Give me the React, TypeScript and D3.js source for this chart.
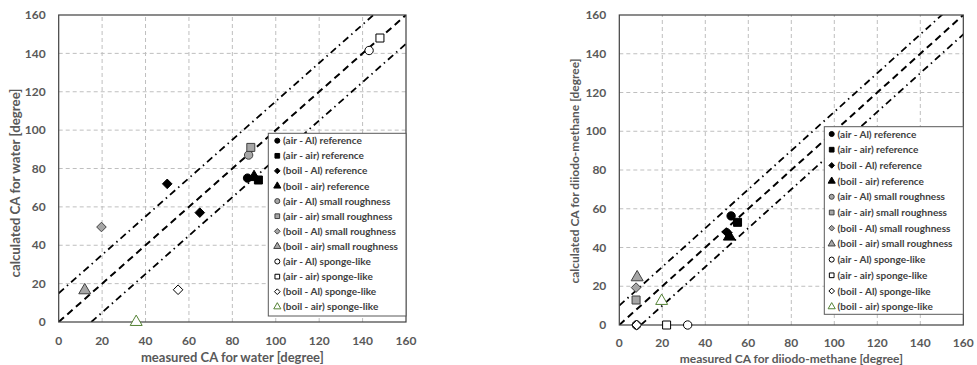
import React from "react";
import * as d3 from "d3";

const seriesNames = [
  "(air - Al) reference",
  "(air - air) reference",
  "(boil - Al) reference",
  "(boil - air) reference",
  "(air - Al) small roughness",
  "(air - air) small roughness",
  "(boil - Al) small roughness",
  "(boil - air) small roughness",
  "(air - Al) sponge-like",
  "(air - air) sponge-like",
  "(boil - Al) sponge-like",
  "(boil - air) sponge-like",
];
const seriesShapes = ["circle", "square", "diamond", "triangle", "circle", "square", "diamond", "triangle", "circle", "square", "diamond", "triangle"];
const seriesGroup = ["ref", "ref", "ref", "ref", "small", "small", "small", "small", "sponge", "sponge", "sponge", "spongeGreen"];

// water chart data
const waterSeries = [0, 1, 2, 2, 3, 4, 5, 6, 7, 8, 9, 10, 11];
const waterMeasured = [87, 92, 50, 65, 90, 87.5, 88.5, 19.7, 12, 143, 148, 55, 35.7];
const waterCalculated = [75, 74, 72, 57, 75.5, 87, 91, 49.5, 16.5, 141.5, 148, 16.8, 0];

// diiodo-methane chart data
const diiodoSeries = [0, 1, 2, 3, 4, 5, 6, 7, 8, 8, 9, 10, 11];
const diiodoMeasured = [52, 55, 50.3, 51.2, 8, 7.8, 7.8, 8.3, 31.8, 8, 22, 8.1, 19.7];
const diiodoCalculated = [56.3, 53, 47.6, 45.6, 0, 12.9, 19.3, 24.6, 0, 0, 0, 0, 12.4];

const tickValues = [0, 20, 40, 60, 80, 100, 120, 140, 160];
const waterBand = 15;
const diiodoBand = 10;

const FONT = "Lato, 'Open Sans', sans-serif";

function markerStyle(i: number) {
  const g = seriesGroup[i];
  if (g === "ref") return { fill: "#000", stroke: "#000" };
  if (g === "small") return { fill: "#a6a6a6", stroke: "#404040" };
  if (g === "spongeGreen") return { fill: "#fff", stroke: "#548235" };
  return { fill: "#fff", stroke: "#000" };
}

function symbolPath(shape: string, size: number) {
  if (shape === "diamond") {
    const r = Math.sqrt(size / 2);
    const p = d3.path();
    p.moveTo(0, -r);
    p.lineTo(r, 0);
    p.lineTo(0, r);
    p.lineTo(-r, 0);
    p.closePath();
    return p.toString();
  }
  const t =
    shape === "circle" ? d3.symbolCircle :
    shape === "square" ? d3.symbolSquare : d3.symbolTriangle;
  return d3.symbol().type(t).size(size)() as string;
}

type ChartProps = {
  id: string;
  xRange: [number, number];
  yRange: [number, number];
  series: number[];
  mx: number[];
  my: number[];
  band: number;
  xTitle: string;
  yTitle: string;
  yTitleX: number;
  yTitleY: number;
  yTitleSize: number;
  xTitleSize: number;
  tickY: number;
  titleY: number;
  legend: { x0: number; y0: number; x1: number; y1: number; firstRow: number; rowStep: number; markerX: number; textX: number };
};

function Chart(p: ChartProps) {
  const x = d3.scaleLinear().domain([0, 160]).range(p.xRange);
  const y = d3.scaleLinear().domain([0, 160]).range(p.yRange);
  const [L, R] = p.xRange;
  const [B, T] = p.yRange;
  const line = d3.line<[number, number]>().x((d) => x(d[0])).y((d) => y(d[1]));
  const clip = `clip-${p.id}`;
  const diag: [number, number][] = [[0, 0], [160, 160]];
  const up: [number, number][] = [[0, p.band], [160, 160 + p.band]];
  const lo: [number, number][] = [[p.band, 0], [160 + p.band, 160]];
  const lg = p.legend;
  return (
    <g>
      <defs>
        <clipPath id={clip}>
          <rect x={L} y={T} width={R - L} height={B - T} />
        </clipPath>
      </defs>
      <rect x={L} y={T} width={R - L} height={B - T} fill="#fff" />
      {tickValues.slice(1, -1).map((v) => (
        <line key={"gx" + v} x1={x(v)} x2={x(v)} y1={B} y2={T} stroke="#bfbfbf" strokeWidth={1} strokeDasharray="4,3" />
      ))}
      {tickValues.slice(1, -1).map((v) => (
        <line key={"gy" + v} x1={L} x2={R} y1={y(v)} y2={y(v)} stroke="#bfbfbf" strokeWidth={1} strokeDasharray="4,3" />
      ))}
      <g clipPath={`url(#${clip})`}>
        <path d={line(diag) as string} stroke="#000" strokeWidth={2} fill="none" strokeDasharray="7,4.5" />
        <path d={line(up) as string} stroke="#000" strokeWidth={1.8} fill="none" strokeDasharray="7,4,1.5,4" />
        <path d={line(lo) as string} stroke="#000" strokeWidth={1.8} fill="none" strokeDasharray="7,4,1.5,4" />
      </g>
      <rect x={L} y={T} width={R - L} height={B - T} fill="none" stroke="#404040" strokeWidth={1.2} />
      {tickValues.map((v) => (
        <text key={"tx" + v} x={x(v)} y={p.tickY} textAnchor="middle" fontFamily={FONT} fontWeight="bold" fontSize={12} fill="#595959">{v}</text>
      ))}
      {tickValues.map((v) => (
        <text key={"ty" + v} x={L - 13} y={y(v)} dy="0.35em" textAnchor="end" fontFamily={FONT} fontWeight="bold" fontSize={12} fill="#595959">{v}</text>
      ))}
      <text x={(L + R) / 2} y={p.titleY} textAnchor="middle" fontFamily={FONT} fontWeight="bold" fontSize={p.xTitleSize} fill="#595959">{p.xTitle}</text>
      <text transform={`translate(${p.yTitleX},${p.yTitleY}) rotate(-90)`} dy="0.35em" textAnchor="middle" fontFamily={FONT} fontWeight="bold" fontSize={p.yTitleSize} fill="#595959">{p.yTitle}</text>
      {p.series.map((s, i) => {
        const st = markerStyle(s);
        const shape = seriesShapes[s];
        const size = shape === "circle" ? 55 : shape === "square" ? 64 : shape === "diamond" ? 46 : 62;
        return (
          <path key={"m" + i} d={symbolPath(shape, size)} transform={`translate(${x(p.mx[i])},${y(p.my[i])})`} fill={st.fill} stroke={st.stroke} strokeWidth={1} />
        );
      })}
      <rect x={lg.x0} y={lg.y0} width={lg.x1 - lg.x0} height={lg.y1 - lg.y0} fill="#fff" stroke="#595959" strokeWidth={1} />
      {seriesNames.map((n, i) => {
        const st = markerStyle(i);
        const shape = seriesShapes[i];
        const cy = lg.firstRow + i * lg.rowStep;
        return (
          <g key={"l" + i}>
            <path d={symbolPath(shape, shape === "circle" ? 20 : shape === "diamond" ? 16 : 22)} transform={`translate(${lg.markerX},${cy})`} fill={st.fill} stroke={st.stroke} strokeWidth={1} />
            <text x={lg.textX} y={cy} dy="0.35em" fontFamily={FONT} fontWeight="bold" fontSize={10} fill="#404040">{n}</text>
          </g>
        );
      })}
    </g>
  );
}

export default function App() {
  return (
    <svg width={977} height={365} style={{ position: "absolute", left: 0, top: 0, display: "block" }}>
      <rect width={977} height={365} fill="#fff" />
      <Chart
        id="water"
        xRange={[58.7, 406]}
        yRange={[322, 15]}
        series={waterSeries}
        mx={waterMeasured}
        my={waterCalculated}
        band={waterBand}
        xTitle="measured CA for water [degree]"
        yTitle="calculated CA for water [degree]"
        yTitleX={15}
        yTitleY={183}
        yTitleSize={13.3}
        xTitleSize={13}
        tickY={345}
        titleY={362}
        legend={{ x0: 268.3, y0: 133.3, x1: 406, y1: 316, firstRow: 140.7, rowStep: 15.1, markerX: 277.3, textX: 283 }}
      />
      <Chart
        id="diiodo"
        xRange={[619.3, 963.3]}
        yRange={[325, 15]}
        series={diiodoSeries}
        mx={diiodoMeasured}
        my={diiodoCalculated}
        band={diiodoBand}
        xTitle="measured CA for diiodo-methane [degree]"
        yTitle="calculated CA for diiodo-methane [degree]"
        yTitleX={575}
        yTitleY={171}
        yTitleSize={12}
        xTitleSize={12}
        tickY={347}
        titleY={363}
        legend={{ x0: 824.3, y0: 126.7, x1: 963.3, y1: 314.3, firstRow: 134, rowStep: 15.7, markerX: 831.7, textX: 837.5 }}
      />
    </svg>
  );
}
